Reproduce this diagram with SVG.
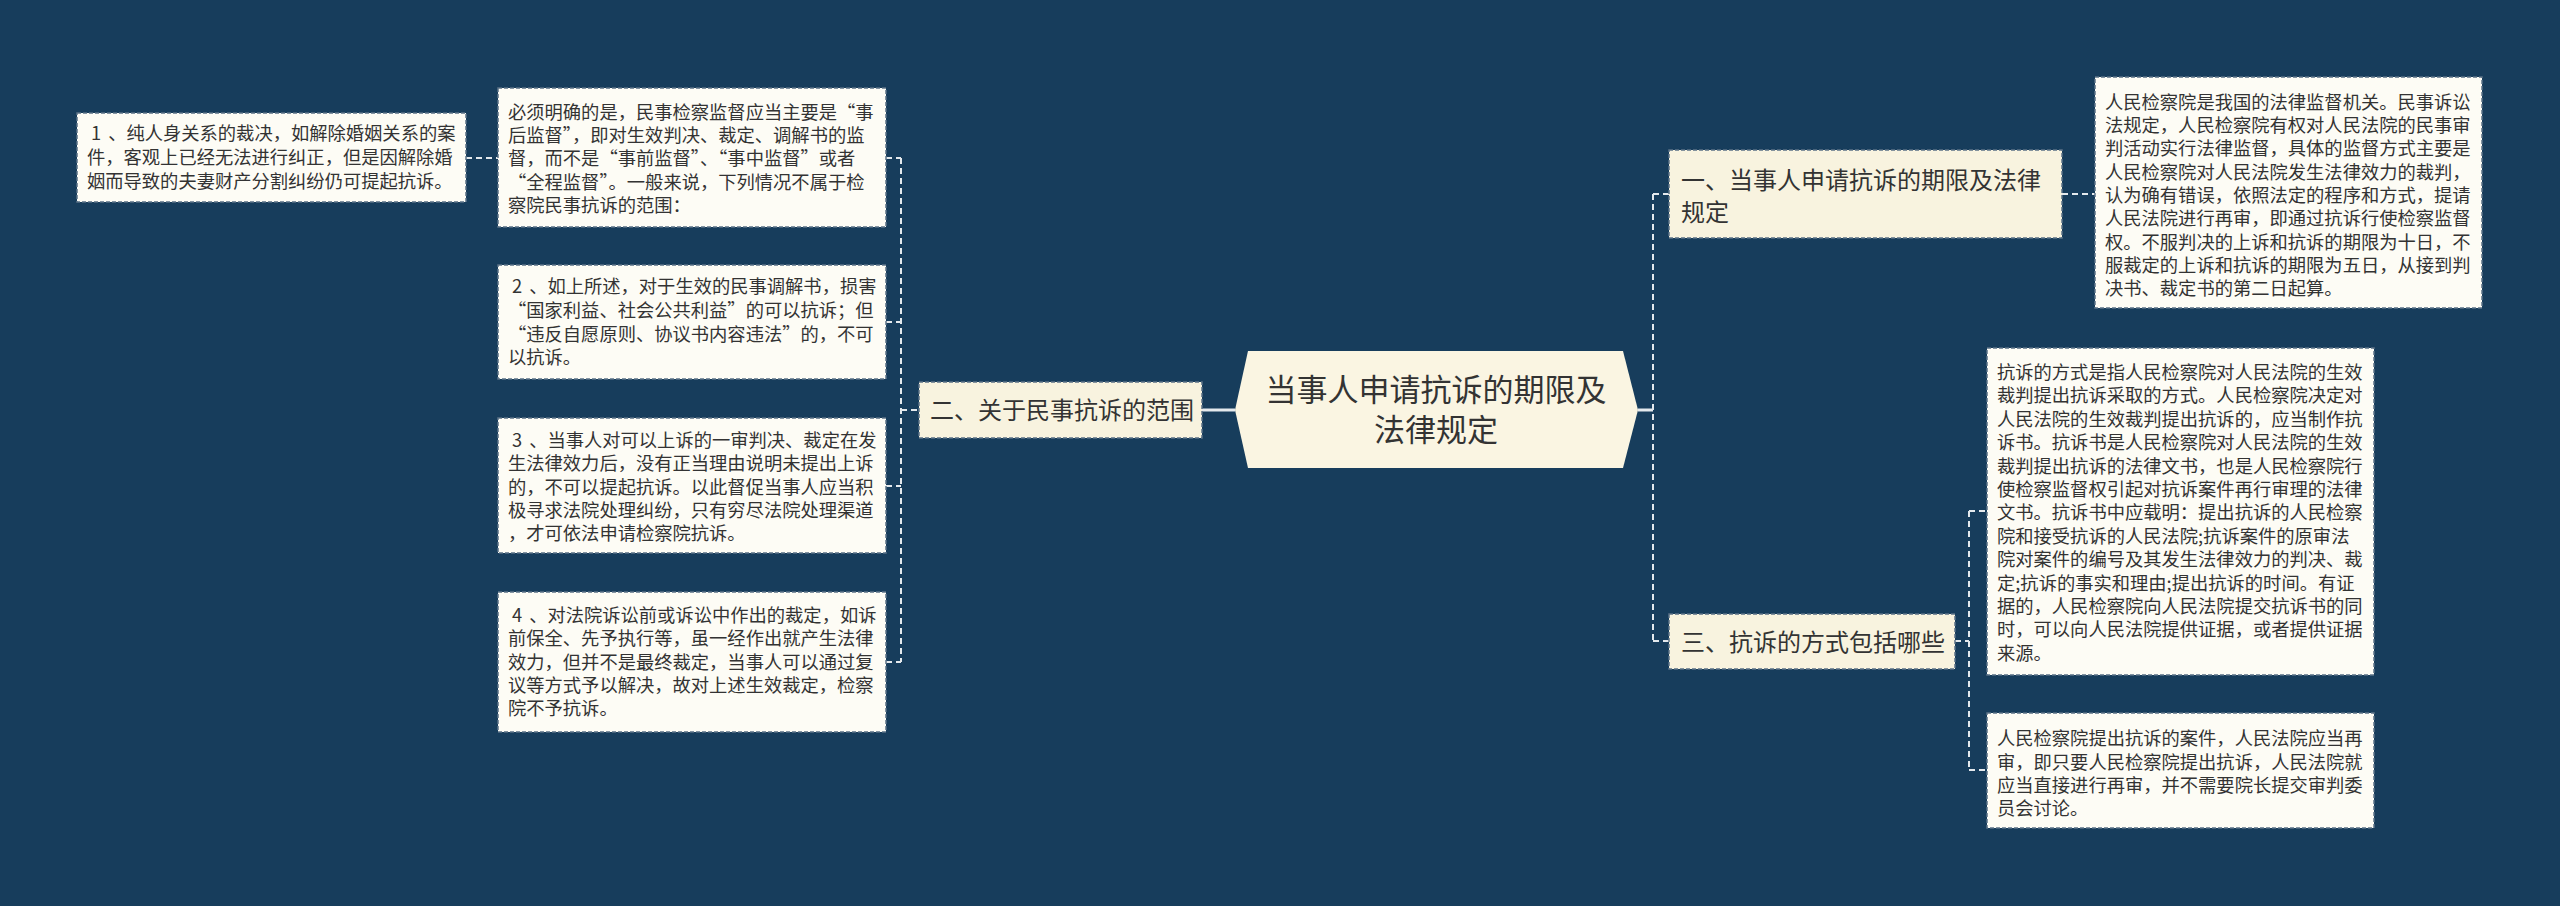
<svg xmlns="http://www.w3.org/2000/svg" width="2560" height="906" viewBox="0 0 2560 906">
<style>
.bg{fill:#173D5C}
.leaf{fill:#FDFCF5;stroke:#5B7186;stroke-width:1.5;stroke-dasharray:4 2}
.branch{fill:#F8F3DF;stroke:#5B7186;stroke-width:1.5;stroke-dasharray:4 2}
.root{fill:#FAF5E2;stroke:none}
.t{font-family:"Noto Sans CJK SC","Noto Sans",sans-serif;fill:#333333}
.s{font-size:18.3px}
.m{font-size:24px}
.l{font-size:31px}
.dash{fill:none;stroke:#E4E9ED;stroke-width:2;stroke-dasharray:6 4}
.solid{fill:none;stroke:#E4E9ED;stroke-width:3}
</style>
<rect class="bg" x="0" y="0" width="2560" height="906"/>
<g id="connectors">
<path class="dash" d="M466 158H498"/>
<path class="dash" d="M901 158V662M886 158H901M886 322H901M886 486H901M886 662H901M901 410H919"/>
<path class="solid" d="M1202 410H1235"/>
<path class="solid" d="M1638 410H1653"/>
<path class="dash" d="M1653 194V641M1653 194H1669M1653 641H1669"/>
<path class="dash" d="M2062 194H2095"/>
<path class="dash" d="M1955 641H1969M1969 511V770M1969 511H1987M1969 770H1987"/>
</g>
<g id="root">
<polygon class="root" points="1248,351 1623,351 1638,410 1623,468 1248,468 1235,410"/>
<text class="t l" text-anchor="middle"><tspan x="1436" y="401">当事人申请抗诉的期限及</tspan><tspan x="1436" y="441">法律规定</tspan></text>
</g>
<g id="b2">
<rect class="branch" x="919" y="382" width="283" height="56"/>
<text class="t m" x="930" y="419">二、关于民事抗诉的范围</text>
</g>
<g id="b2-intro">
<rect class="leaf" x="498" y="88" width="388" height="139"/>
<text class="t s"><tspan x="508" y="119">必须明确的是，民事检察监督应当主要是“事</tspan><tspan x="508" y="142">后监督”，即对生效判决、裁定、调解书的监</tspan><tspan x="508" y="165">督，而不是“事前监督”、“事中监督”或者</tspan><tspan x="508" y="189">“全程监督”。一般来说，下列情况不属于检</tspan><tspan x="508" y="212">察院民事抗诉的范围：</tspan></text>
</g>
<g id="b2-1">
<rect class="leaf" x="77" y="113" width="389" height="89"/>
<text class="t s"><tspan x="91" y="140">1</tspan><tspan dx="7">、纯人身关系的裁决，如解除婚姻关系的案</tspan><tspan x="87" y="164">件，客观上已经无法进行纠正，但是因解除婚</tspan><tspan x="87" y="188">姻而导致的夫妻财产分割纠纷仍可提起抗诉。</tspan></text>
</g>
<g id="b2-2">
<rect class="leaf" x="498" y="265" width="388" height="114"/>
<text class="t s"><tspan x="512" y="293">2</tspan><tspan dx="7">、如上所述，对于生效的民事调解书，损害</tspan><tspan x="508" y="317">“国家利益、社会公共利益”的可以抗诉；但</tspan><tspan x="508" y="341">“违反自愿原则、协议书内容违法”的，不可</tspan><tspan x="508" y="364">以抗诉。</tspan></text>
</g>
<g id="b2-3">
<rect class="leaf" x="498" y="418" width="388" height="135"/>
<text class="t s"><tspan x="512" y="447">3</tspan><tspan dx="7">、当事人对可以上诉的一审判决、裁定在发</tspan><tspan x="508" y="470">生法律效力后，没有正当理由说明未提出上诉</tspan><tspan x="508" y="494">的，不可以提起抗诉。以此督促当事人应当积</tspan><tspan x="508" y="517">极寻求法院处理纠纷，只有穷尽法院处理渠道</tspan><tspan x="508" y="540">，才可依法申请检察院抗诉。</tspan></text>
</g>
<g id="b2-4">
<rect class="leaf" x="498" y="592" width="388" height="140"/>
<text class="t s"><tspan x="512" y="622">4</tspan><tspan dx="7">、对法院诉讼前或诉讼中作出的裁定，如诉</tspan><tspan x="508" y="645">前保全、先予执行等，虽一经作出就产生法律</tspan><tspan x="508" y="669">效力，但并不是最终裁定，当事人可以通过复</tspan><tspan x="508" y="692">议等方式予以解决，故对上述生效裁定，检察</tspan><tspan x="508" y="715">院不予抗诉。</tspan></text>
</g>
<g id="b1">
<rect class="branch" x="1669" y="150" width="393" height="88"/>
<text class="t m"><tspan x="1681" y="189">一、当事人申请抗诉的期限及法律</tspan><tspan x="1681" y="221">规定</tspan></text>
</g>
<g id="b1-1">
<rect class="leaf" x="2095" y="77" width="387" height="231"/>
<text class="t s"><tspan x="2105" y="109">人民检察院是我国的法律监督机关。民事诉讼</tspan><tspan x="2105" y="132">法规定，人民检察院有权对人民法院的民事审</tspan><tspan x="2105" y="155">判活动实行法律监督，具体的监督方式主要是</tspan><tspan x="2105" y="179">人民检察院对人民法院发生法律效力的裁判，</tspan><tspan x="2105" y="202">认为确有错误，依照法定的程序和方式，提请</tspan><tspan x="2105" y="225">人民法院进行再审，即通过抗诉行使检察监督</tspan><tspan x="2105" y="249">权。不服判决的上诉和抗诉的期限为十日，不</tspan><tspan x="2105" y="272">服裁定的上诉和抗诉的期限为五日，从接到判</tspan><tspan x="2105" y="295">决书、裁定书的第二日起算。</tspan></text>
</g>
<g id="b3">
<rect class="branch" x="1669" y="614" width="286" height="55"/>
<text class="t m" x="1681" y="651">三、抗诉的方式包括哪些</text>
</g>
<g id="b3-1">
<rect class="leaf" x="1987" y="348" width="387" height="327"/>
<text class="t s"><tspan x="1997" y="379">抗诉的方式是指人民检察院对人民法院的生效</tspan><tspan x="1997" y="402">裁判提出抗诉采取的方式。人民检察院决定对</tspan><tspan x="1997" y="426">人民法院的生效裁判提出抗诉的，应当制作抗</tspan><tspan x="1997" y="449">诉书。抗诉书是人民检察院对人民法院的生效</tspan><tspan x="1997" y="473">裁判提出抗诉的法律文书，也是人民检察院行</tspan><tspan x="1997" y="496">使检察监督权引起对抗诉案件再行审理的法律</tspan><tspan x="1997" y="519">文书。抗诉书中应载明：提出抗诉的人民检察</tspan><tspan x="1997" y="543">院和接受抗诉的人民法院;抗诉案件的原审法</tspan><tspan x="1997" y="566">院对案件的编号及其发生法律效力的判决、裁</tspan><tspan x="1997" y="590">定;抗诉的事实和理由;提出抗诉的时间。有证</tspan><tspan x="1997" y="613">据的，人民检察院向人民法院提交抗诉书的同</tspan><tspan x="1997" y="636">时，可以向人民法院提供证据，或者提供证据</tspan><tspan x="1997" y="660">来源。</tspan></text>
</g>
<g id="b3-2">
<rect class="leaf" x="1987" y="713" width="387" height="115"/>
<text class="t s"><tspan x="1997" y="745">人民检察院提出抗诉的案件，人民法院应当再</tspan><tspan x="1997" y="769">审，即只要人民检察院提出抗诉，人民法院就</tspan><tspan x="1997" y="792">应当直接进行再审，并不需要院长提交审判委</tspan><tspan x="1997" y="815">员会讨论。</tspan></text>
</g>
</svg>
